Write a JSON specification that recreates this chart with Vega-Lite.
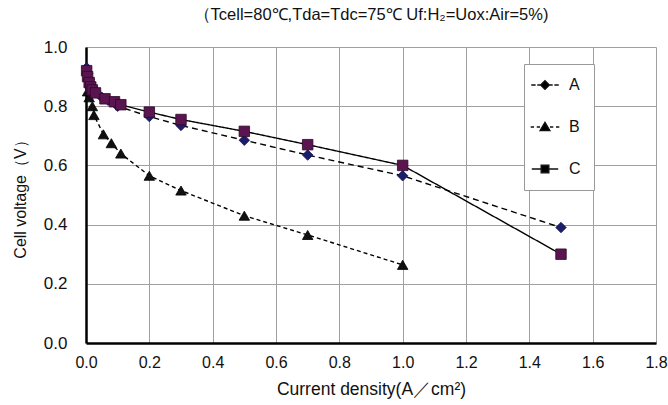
{
  "$schema": "https://vega.github.io/schema/vega-lite/v6.json",
  "width": 570,
  "height": 296,
  "autosize": "none",
  "padding": {"left": 86, "top": 47, "right": 12, "bottom": 62},
  "background": "white",
  "title": {
    "text": "（Tcell=80℃,Tda=Tdc=75℃ Uf:H₂=Uox:Air=5%)",
    "font": "Liberation Sans",
    "fontSize": 16.5,
    "fontWeight": "normal",
    "color": "#111111",
    "anchor": "middle",
    "offset": 15
  },
  "config": {
    "view": {"stroke": null},
    "font": "Liberation Sans"
  },
  "data": {
    "values": [
      {"series": "A", "x": 0.002, "y": 0.93},
      {"series": "A", "x": 0.005, "y": 0.91},
      {"series": "A", "x": 0.01, "y": 0.89},
      {"series": "A", "x": 0.015, "y": 0.875},
      {"series": "A", "x": 0.02, "y": 0.865},
      {"series": "A", "x": 0.03, "y": 0.85},
      {"series": "A", "x": 0.05, "y": 0.83},
      {"series": "A", "x": 0.07, "y": 0.82},
      {"series": "A", "x": 0.1, "y": 0.80},
      {"series": "A", "x": 0.2, "y": 0.765},
      {"series": "A", "x": 0.3, "y": 0.735},
      {"series": "A", "x": 0.5, "y": 0.685},
      {"series": "A", "x": 0.7, "y": 0.635},
      {"series": "A", "x": 1.0, "y": 0.565},
      {"series": "A", "x": 1.5, "y": 0.39},
      {"series": "B", "x": 0.005, "y": 0.85},
      {"series": "B", "x": 0.01, "y": 0.83},
      {"series": "B", "x": 0.02, "y": 0.80},
      {"series": "B", "x": 0.025, "y": 0.77},
      {"series": "B", "x": 0.055, "y": 0.705},
      {"series": "B", "x": 0.08, "y": 0.675},
      {"series": "B", "x": 0.11, "y": 0.64},
      {"series": "B", "x": 0.2, "y": 0.565},
      {"series": "B", "x": 0.3, "y": 0.515},
      {"series": "B", "x": 0.5, "y": 0.43},
      {"series": "B", "x": 0.7, "y": 0.365},
      {"series": "B", "x": 1.0, "y": 0.264},
      {"series": "C", "x": 0.002, "y": 0.92},
      {"series": "C", "x": 0.005, "y": 0.90},
      {"series": "C", "x": 0.01, "y": 0.88},
      {"series": "C", "x": 0.015, "y": 0.865},
      {"series": "C", "x": 0.02, "y": 0.855},
      {"series": "C", "x": 0.03, "y": 0.845},
      {"series": "C", "x": 0.06, "y": 0.825},
      {"series": "C", "x": 0.09, "y": 0.815},
      {"series": "C", "x": 0.11, "y": 0.805},
      {"series": "C", "x": 0.2, "y": 0.78},
      {"series": "C", "x": 0.3, "y": 0.755},
      {"series": "C", "x": 0.5, "y": 0.715},
      {"series": "C", "x": 0.7, "y": 0.67},
      {"series": "C", "x": 1.0, "y": 0.60},
      {"series": "C", "x": 1.5, "y": 0.30}
    ]
  },
  "encoding": {
    "x": {
      "field": "x", "type": "quantitative",
      "scale": {"domain": [0, 1.8], "nice": false, "zero": true},
      "axis": {
        "title": "Current density(A／cm²)",
        "values": [0, 0.2, 0.4, 0.6, 0.8, 1.0, 1.2, 1.4, 1.6, 1.8],
        "format": ".1f",
        "labelFlush": false,
        "labelFontSize": 16, "labelColor": "#111111", "labelPadding": 11,
        "titleFontSize": 17.5, "titleFontWeight": "normal", "titleColor": "#111111", "titlePadding": 10,
        "domainColor": "black", "domainWidth": 2.5,
        "ticks": false,
        "grid": true, "gridColor": "#a0a0a0", "gridWidth": 1
      }
    },
    "y": {
      "field": "y", "type": "quantitative",
      "scale": {"domain": [0, 1.0], "nice": false},
      "axis": {
        "title": "Cell voltage（V）",
        "values": [0, 0.2, 0.4, 0.6, 0.8, 1.0],
        "format": ".1f",
        "labelFlush": false,
        "labelFontSize": 17, "labelColor": "#111111", "labelPadding": 19,
        "titleFontSize": 16, "titleFontWeight": "normal", "titleColor": "#111111", "titlePadding": 15,
        "domainColor": "black", "domainWidth": 2.5,
        "ticks": false,
        "grid": true, "gridColor": "#a0a0a0", "gridWidth": 1
      }
    }
  },
  "layer": [
    {
      "mark": {"type": "line", "color": "black", "strokeWidth": 1.4},
      "encoding": {
        "detail": {"field": "series"},
        "strokeDash": {
          "field": "series", "type": "nominal",
          "scale": {"domain": ["A", "B", "C"], "range": [[6, 4], [4, 3], [1, 0]]},
          "legend": null
        }
      }
    },
    {
      "mark": {"type": "point", "filled": true, "opacity": 1, "strokeWidth": 0.8, "size": 110},
      "encoding": {
        "shape": {
          "field": "series", "type": "nominal",
          "scale": {"domain": ["A", "B", "C"], "range": ["diamond", "triangle-up", "square"]},
          "legend": null
        },
        "fill": {
          "field": "series", "type": "nominal",
          "scale": {"domain": ["A", "B", "C"], "range": ["#1c1c6a", "#111111", "#5a1550"]},
          "legend": null
        },
        "stroke": {
          "field": "series", "type": "nominal",
          "scale": {"domain": ["A", "B", "C"], "range": ["#151550", "#000000", "#2e0828"]},
          "legend": null
        }
      }
    },
    {
      "mark": {"type": "point", "filled": true, "opacity": 0},
      "encoding": {
        "shape": {
          "field": "series", "type": "nominal",
          "scale": {"domain": ["A", "B", "C"], "range": [
            "M-2.5,0H-1.7M-1.4,0H-0.8M0.8,0H1.4M1.7,0H2.5M0,-0.8L0.8,0L0,0.8L-0.8,0Z",
            "M-2.6,0H-2M-1.5,0H-0.9M0.9,0H1.5M2,0H2.6M0,-0.85L0.9,0.65L-0.9,0.65Z",
            "M-2.4,0H-0.7M0.7,0H2.4M-0.7,-0.7H0.7V0.7H-0.7Z"
          ]},
          "legend": {
            "title": null, "orient": "none", "legendX": 438, "legendY": 17, "padding": 13,
            "fillColor": "white", "strokeColor": "#999999",
            "symbolSize": 121, "symbolOpacity": 1, "symbolStrokeWidth": 1.3,
            "labelFontSize": 16, "labelColor": "#111111", "labelOffset": 16, "rowPadding": 26
          }
        },
        "color": {
          "field": "series", "type": "nominal",
          "scale": {"domain": ["A", "B", "C"], "range": ["#1c1c6a", "#111111", "#5a1550"]},
          "legend": {
            "title": null, "orient": "none", "legendX": 438, "legendY": 17, "padding": 13,
            "fillColor": "white", "strokeColor": "#999999",
            "symbolSize": 121, "symbolOpacity": 1, "symbolStrokeWidth": 1.3,
            "labelFontSize": 16, "labelColor": "#111111", "labelOffset": 16, "rowPadding": 26
          }
        },
        "stroke": {
          "field": "series", "type": "nominal",
          "scale": {"domain": ["A", "B", "C"], "range": ["#111111", "#111111", "#111111"]},
          "legend": {
            "title": null, "orient": "none", "legendX": 438, "legendY": 17, "padding": 13,
            "fillColor": "white", "strokeColor": "#999999",
            "symbolSize": 121, "symbolOpacity": 1, "symbolStrokeWidth": 1.3,
            "labelFontSize": 16, "labelColor": "#111111", "labelOffset": 16, "rowPadding": 26
          }
        }
      }
    }
  ],
  "resolve": {"scale": {"shape": "independent", "stroke": "independent"}}
}
